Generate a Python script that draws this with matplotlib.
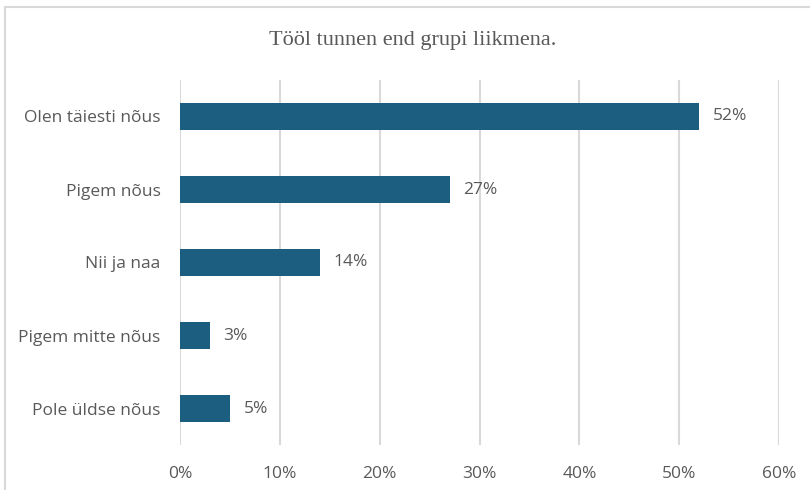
import matplotlib.pyplot as plt
from matplotlib.lines import Line2D

# ------------------ Data ------------------
categories = ['Olen täiesti nõus', 'Pigem nõus', 'Nii ja naa',
              'Pigem mitte nõus', 'Pole üldse nõus']
values = [52, 27, 14, 3, 5]
ticks = [0, 10, 20, 30, 40, 50, 60]
title = 'Tööl tunnen end grupi liikmena.'

bar_color = '#1B5E80'
text_color = '#595959'
grid_color = '#D9D9D9'
fs = 12.5

fig = plt.figure(figsize=(8.1, 4.9), dpi=100)
ax = fig.add_axes([180 / 810, 1 - 445 / 490, (779 - 180) / 810, (445 - 80) / 490])

y = list(range(len(categories)))
ax.barh(y, values, height=0.36, color=bar_color, zorder=3)
ax.set_ylim(len(categories) - 0.5, -0.5)
ax.set_xlim(0, 60)

for yi, v in zip(y, values):
    ax.text(v + 1.35, yi, f'{v}%', va='center', ha='left',
            fontsize=fs, color=text_color, family='Open Sans')

ax.set_yticks(y)
ax.set_yticklabels(categories, fontsize=fs, color=text_color, family='Open Sans')
ax.set_xticks(ticks)
ax.set_xticklabels([f'{t}%' for t in ticks], fontsize=fs, color=text_color,
                   family='Open Sans')
ax.tick_params(axis='both', length=0)
ax.tick_params(axis='y', pad=14)
ax.tick_params(axis='x', pad=15)

ax.grid(axis='x', color=grid_color, linewidth=1.5, zorder=0)
for s in ax.spines.values():
    s.set_visible(False)

fig.text(413 / 810, 1 - 41 / 490, title, ha='center', va='center',
         fontsize=16, color=text_color, family='Liberation Serif')

# chart frame (only top and left edges show)
fig.add_artist(Line2D([4.5 / 810, 4.5 / 810], [0, 1 - 7.5 / 490],
                      transform=fig.transFigure, color=grid_color, linewidth=1.5))
fig.add_artist(Line2D([4.5 / 810, 1], [1 - 7.5 / 490, 1 - 7.5 / 490],
                      transform=fig.transFigure, color=grid_color, linewidth=1.5))

fig.savefig('out.png', dpi=100, facecolor='white')
